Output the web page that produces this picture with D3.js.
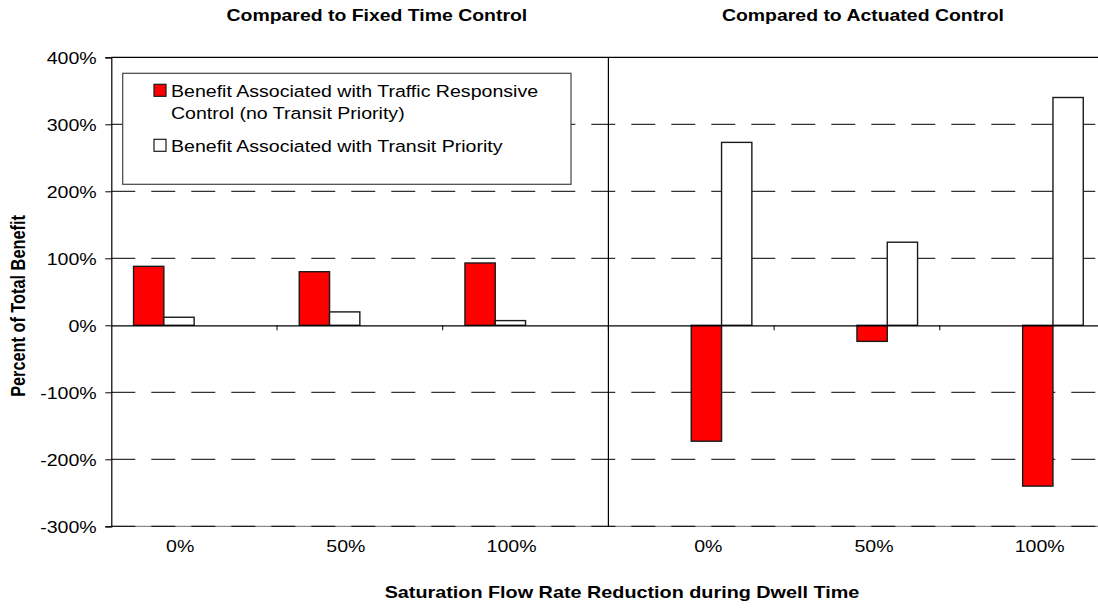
<!DOCTYPE html>
<html>
<head>
<meta charset="utf-8">
<script src="https://cdn.jsdelivr.net/npm/d3@7"></script>
<style>
  html, body { margin: 0; padding: 0; background: #fff; }
  svg { display: block; font-family: "Liberation Sans", Arial, sans-serif; }
</style>
</head>
<body>
<div id="chart"></div>
<script>
// Data (percent of total benefit)
const panels = ["Compared to Fixed Time Control", "Compared to Actuated Control"];
const reductions = ["0%", "50%", "100%"];
const trafficResponsive = [88, 80, 93, -173, -24, -240];
const transitPriority = [12, 20, 7, 273, 124, 340];
const yTicks = [-300, -200, -100, 0, 100, 200, 300, 400];
const legendLabels = [
  ["Benefit Associated with Traffic Responsive", "Control (no Transit Priority)"],
  ["Benefit Associated with Transit Priority"],
];

const width = 1098;
const height = 608;
const margin = { top: 57.3, left: 111.3 };
const plotH = 469;
const catW = 165.7;
const sx = 1.2; // the source picture is stretched sideways
const fontSize = 16.3;

const cats = d3.range(panels.length * reductions.length);

const svg = d3
  .select("#chart")
  .append("svg")
  .attr("width", width)
  .attr("height", height)
  .attr("viewBox", [0, 0, width, height]);

const x = d3
  .scaleBand()
  .domain(cats)
  .range([margin.left, margin.left + catW * cats.length])
  .padding(0);

// four series slots per category: panel 0 uses slots 0,1 ; panel 1 uses 2,3
const slot = d3
  .scaleBand()
  .domain([0, 1, 2, 3])
  .range([0, x.bandwidth()])
  .paddingInner(0)
  .paddingOuter(0.734);

const y = d3
  .scaleLinear()
  .domain([-300, 400])
  .range([margin.top + plotH, margin.top]);

const x0 = margin.left;
const x1 = x.range()[1];
const divider = x(reductions.length);

// stretched text helper
function label(g, px, py, txt, opts = {}) {
  return g
    .append("text")
    .attr("transform", `translate(${px},${py}) scale(${sx},1)${opts.rotate ? " rotate(-90)" : ""}`)
    .attr("text-anchor", opts.anchor || "middle")
    .attr("fill", "#000")
    .style("font-size", `${opts.size || fontSize}px`)
    .style("font-weight", opts.bold ? "bold" : "normal")
    .text(txt);
}

// bottom plot border (grey) under the dashed grid line
svg.append("line")
  .attr("x1", x0).attr("x2", x1)
  .attr("y1", y(-300)).attr("y2", y(-300))
  .attr("stroke", "#8a8a8a").attr("stroke-width", 1.2);

// Dashed grid lines
svg.append("g")
  .selectAll("line")
  .data(yTicks.filter((d) => d !== 0 && d !== 400))
  .join("line")
  .attr("x1", x0).attr("x2", x1)
  .attr("y1", (d) => y(d)).attr("y2", (d) => y(d))
  .attr("stroke", "#000")
  .attr("stroke-width", 1)
  .attr("stroke-dasharray", "24,16");

// top border
svg.append("line")
  .attr("x1", x0).attr("x2", x1)
  .attr("y1", y(400)).attr("y2", y(400))
  .attr("stroke", "#000").attr("stroke-width", 1.2);

// Y axis
const yAxis = svg.append("g")
  .attr("transform", `translate(${x0},0)`)
  .call(d3.axisLeft(y).tickValues(yTicks).tickSize(6).tickFormat(""));
yAxis.select(".domain").attr("stroke", "#000").attr("stroke-width", 1.2);
yAxis.selectAll(".tick line").attr("stroke", "#000");

yTicks.forEach((t) => label(svg, x0 - 14.6, y(t) + 7, `${t}%`, { anchor: "end" }));

// panel divider
svg.append("line")
  .attr("x1", divider).attr("x2", divider)
  .attr("y1", y(400)).attr("y2", y(-300))
  .attr("stroke", "#000").attr("stroke-width", 1.2);

// Bars
const bars = svg.append("g");
cats.forEach((c) => {
  const p = Math.floor(c / reductions.length);
  const vals = [trafficResponsive[c], transitPriority[c]];
  vals.forEach((v, i) => {
    bars.append("rect")
      .attr("x", x(c) + slot(p * 2 + i))
      .attr("y", y(Math.max(0, v)))
      .attr("width", slot.bandwidth())
      .attr("height", Math.abs(y(v) - y(0)))
      .attr("fill", i === 0 ? "#ff0000" : "#ffffff")
      .attr("stroke", "#1a1a1a")
      .attr("stroke-width", 1.4);
  });
});

// zero line with category ticks
svg.append("g")
  .attr("transform", `translate(0,${y(0)})`)
  .call(d3.axisBottom(x).tickSize(0).tickFormat(""))
  .call((g) => g.select(".domain").attr("stroke", "#000").attr("stroke-width", 1.2));
svg.append("g")
  .selectAll("line")
  .data(cats.slice(1))
  .join("line")
  .attr("x1", (c) => x(c)).attr("x2", (c) => x(c))
  .attr("y1", y(0)).attr("y2", y(0) + 5)
  .attr("stroke", "#000");

// category labels under the plot
const nudge = [-14, 17];
cats.forEach((c) => {
  const p = Math.floor(c / reductions.length);
  label(svg, x(c) + x.bandwidth() / 2 + nudge[p], 552, reductions[c % reductions.length]);
});

// panel titles
const titleNudge = [17, 6];
panels.forEach((t, p) => {
  const cx = (x(p * reductions.length) + x(p * reductions.length + reductions.length - 1) + x.bandwidth()) / 2;
  label(svg, cx + titleNudge[p], 21, t, { bold: true, size: 16.2 });
});

// axis titles
label(svg, 622, 598, "Saturation Flow Rate Reduction during Dwell Time", { bold: true, size: 16.5 });
label(svg, 25, 306, "Percent of Total Benefit", { bold: true, size: 16.3, rotate: true });

// Legend
const legend = svg.append("g");
legend.append("rect")
  .attr("x", 122.7).attr("y", 73.3)
  .attr("width", 448.3).attr("height", 111)
  .attr("fill", "#fff")
  .attr("stroke", "#444").attr("stroke-width", 1.2);

const legendFill = ["#ff0000", "#ffffff"];
const lineBase = [96.7, 151.7];
legendLabels.forEach((lines, i) => {
  legend.append("rect")
    .attr("x", 154).attr("y", lineBase[i] - 12.4)
    .attr("width", 12).attr("height", 12)
    .attr("fill", legendFill[i])
    .attr("stroke", "#1a1a1a").attr("stroke-width", 1.2);
  lines.forEach((t, j) => label(legend, 171, lineBase[i] + j * 22.6, t, { anchor: "start" }));
});
</script>
</body>
</html>
